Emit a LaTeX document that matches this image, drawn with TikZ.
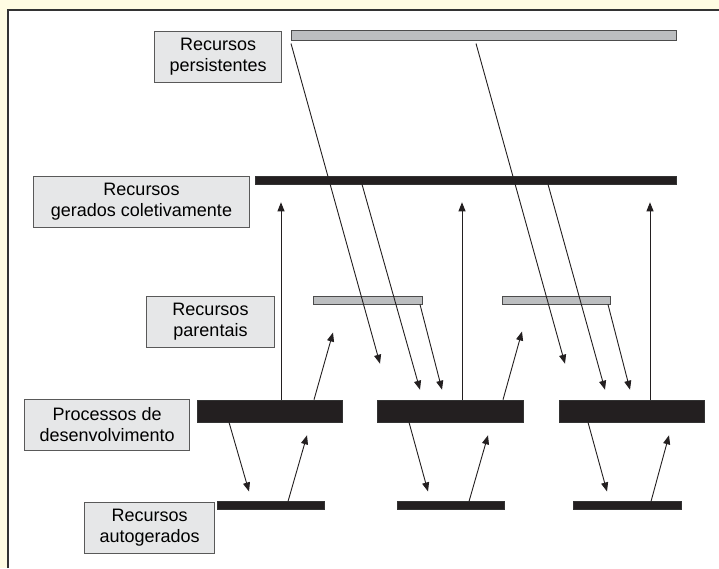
\documentclass[tikz,border=0pt]{standalone}
\usepackage{fontspec}
\setmainfont{Liberation Sans}
\usetikzlibrary{arrows.meta}

\definecolor{cream}{HTML}{FFFCE3}
\definecolor{ink}{HTML}{231F20}
\definecolor{barfill}{HTML}{BCBEC0}
\definecolor{tagfill}{HTML}{E6E7E8}

\begin{document}
\begin{tikzpicture}[
    x=1pt, y=-1pt,
    tag/.style={rectangle, draw=black!65, fill=tagfill, line width=1pt, align=center, inner xsep=15pt, minimum height=51pt, anchor=north west, font=\fontsize{18}{21}\selectfont},
    greybar/.style={rectangle, draw=black!70, fill=barfill, line width=1pt, inner sep=0pt},
    blackbar/.style={rectangle, draw=black!80, fill=ink, line width=0.6pt, inner sep=0pt},
    arrow/.style={draw=ink, line width=0.9pt, -{Triangle[length=9pt,width=7pt]}}
]

% frame
\useasboundingbox (0,0) rectangle (719,568);
\fill[cream] (0,0) rectangle (719,568);
\fill[white] (8,10) rectangle (719,568);
\draw[black!80, line width=2pt] (8,568) -- (8,10) -- (719,10);

% bars
\node (pers) [greybar, minimum width=385pt, minimum height=10pt] at (483.5,35) {};
\node (coll) [blackbar, minimum width=421pt, minimum height=8pt] at (465.5,180) {};
\node (par1) [greybar, minimum width=109pt, minimum height=8pt] at (367.5,300) {};
\node (par2) [greybar, minimum width=108pt, minimum height=8pt] at (556,300) {};
\node (proc1) [blackbar, minimum width=145pt, minimum height=22pt] at (269.5,411) {};
\node (proc2) [blackbar, minimum width=146pt, minimum height=22pt] at (450,411) {};
\node (proc3) [blackbar, minimum width=145pt, minimum height=22pt] at (631.5,411) {};
\node (auto1) [blackbar, minimum width=107pt, minimum height=7.5pt] at (270.5,505.5) {};
\node (auto2) [blackbar, minimum width=107pt, minimum height=7.5pt] at (450.5,505.5) {};
\node (auto3) [blackbar, minimum width=108pt, minimum height=7.5pt] at (627,505.5) {};

% labels
\node (lpers) [tag] at (154,31) {Recursos\\persistentes};
\node (lcoll) [tag, minimum width=216pt] at (33,176) {Recursos\\gerados coletivamente};
\node (lpar) [tag, minimum width=128pt] at (146,296) {Recursos\\parentais};
\node (lproc) [tag] at (24,399) {Processos de\\desenvolvimento};
\node (lauto) [tag] at (84,502) {Recursos\\autogerados};

% processos -> recursos coletivos
\draw [arrow] ([xshift=11.5pt]proc1.north) -- ([xshift=-184.5pt,yshift=-18pt]coll.south);
\draw [arrow] ([xshift=12pt]proc2.north) -- ([xshift=-3.5pt,yshift=-18pt]coll.south);
\draw [arrow] ([xshift=18.5pt]proc3.north) -- ([xshift=184.5pt,yshift=-18pt]coll.south);

% persistentes, coletivos e parentais -> processos
\draw [arrow] ([xshift=-192.5pt,yshift=-3pt]pers.south) -- ([xshift=-70pt,yshift=36pt]proc2.north);
\draw [arrow] ([xshift=-7.5pt,yshift=-3pt]pers.south) -- ([xshift=-66.5pt,yshift=36pt]proc3.north);
\draw [arrow] ([xshift=-103.5pt]coll.south) -- ([xshift=-30pt,yshift=10pt]proc2.north);
\draw [arrow] ([xshift=82.5pt]coll.south) -- ([xshift=-26.5pt,yshift=10pt]proc3.north);
\draw [arrow] ([xshift=52.5pt]par1.south) -- ([xshift=-8pt,yshift=10pt]proc2.north);
\draw [arrow] ([xshift=52pt]par2.south) -- ([xshift=-1.5pt,yshift=10pt]proc3.north);

% processos -> parentais
\draw [arrow] ([xshift=44.5pt]proc1.north) -- ([xshift=-34.5pt,yshift=-28pt]par1.south);
\draw [arrow] ([xshift=53pt]proc2.north) -- ([xshift=-34pt,yshift=-27pt]par2.south);

% processos <-> autogerados
\draw [arrow] ([xshift=-40.5pt]proc1.south) -- ([xshift=-21.5pt,yshift=10pt]auto1.north);
\draw [arrow] ([xshift=-41pt]proc2.south) -- ([xshift=-22.5pt,yshift=10pt]auto2.north);
\draw [arrow] ([xshift=-43.5pt]proc3.south) -- ([xshift=-20pt,yshift=10pt]auto3.north);
\draw [arrow] ([xshift=17.5pt]auto1.north) -- ([xshift=37.5pt,yshift=-13pt]proc1.south);
\draw [arrow] ([xshift=18.5pt]auto2.north) -- ([xshift=38pt,yshift=-13pt]proc2.south);
\draw [arrow] ([xshift=24pt]auto3.north) -- ([xshift=37.5pt,yshift=-13pt]proc3.south);

\end{tikzpicture}
\end{document}
